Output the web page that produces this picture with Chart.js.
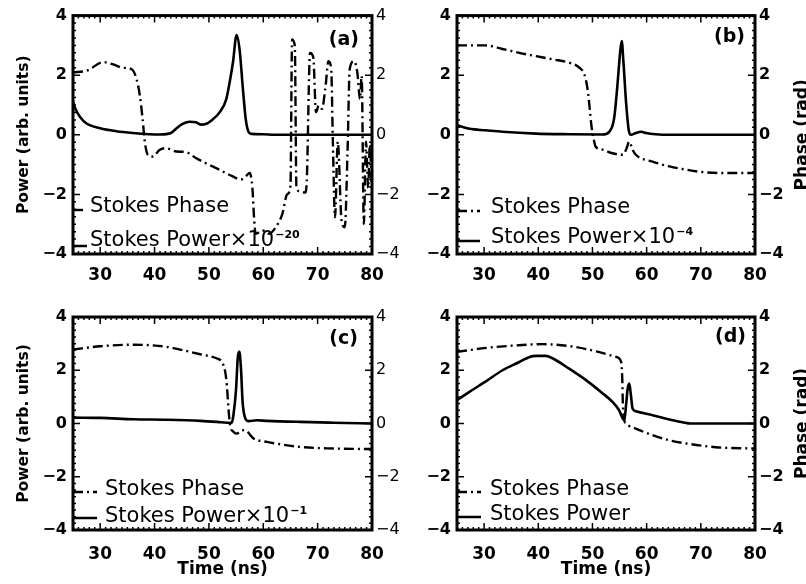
<!DOCTYPE html>
<html>
<head>
<meta charset="utf-8">
<script src="https://cdn.jsdelivr.net/npm/chart.js@4.4.0/dist/chart.umd.min.js"></script>
<style>
  body { margin: 0; background: #fff; }
  #wrap { position: relative; width: 806px; height: 584px; }
  canvas { position: absolute; }
</style>
</head>
<body>
<div id="wrap">
  <canvas id="pa" width="403" height="292" style="left:0;top:0"></canvas>
  <canvas id="pb" width="403" height="292" style="left:403px;top:0"></canvas>
  <canvas id="pc" width="403" height="292" style="left:0;top:292px"></canvas>
  <canvas id="pd" width="403" height="292" style="left:403px;top:292px"></canvas>
</div>
<script>
const xTicks = [30, 40, 50, 60, 70, 80];
const yTicks = [-4, -2, 0, 2, 4];

// (a)
const powerTimeA = [25, 25.5, 26.3, 27.5, 30, 33, 36, 39, 41, 43, 44, 45, 46.4, 47.6, 48.5, 49.4, 50.6, 52, 53.2, 53.8, 54.4, 55.1, 55.65, 56.25, 56.75, 57.2, 57.8, 60, 62, 80];
const powerA = [1.1, 0.85, 0.6, 0.38, 0.22, 0.12, 0.06, 0.02, 0.01, 0.06, 0.21, 0.35, 0.44, 0.42, 0.34, 0.36, 0.5, 0.76, 1.2, 1.75, 2.4, 3.35, 2.85, 1.55, 0.56, 0.14, 0.03, 0.02, 0, 0];
const phaseTimeA = [25, 27.5, 30.6, 32.4, 34.2, 35.8, 36.7, 37.3, 37.8, 38.2, 38.8, 39.7, 40.9, 42.1, 44, 45.8, 47.6, 49.4, 51.9, 54.3, 55.9, 56.8, 57.5, 58, 58.3, 58.6, 59.9, 61.1, 62.3, 63.5, 64.4, 65, 65.3, 65.8, 66.1, 66.8, 67.7, 68, 68.6, 69.2, 69.7, 70.2, 70.8, 71.4, 72, 72.5, 72.8, 73.2, 73.7, 74.4, 75, 75.5, 75.9, 76.7, 77.3, 77.8, 78.1, 78.5, 78.9, 79.3, 79.6, 80];
const phaseA = [2.1, 2.15, 2.44, 2.36, 2.25, 2.2, 1.86, 1.31, 0.54, -0.23, -0.68, -0.73, -0.51, -0.45, -0.56, -0.58, -0.78, -0.95, -1.17, -1.39, -1.5, -1.39, -1.28, -1.78, -2.77, -3.32, -3.21, -3.32, -3.1, -2.66, -2.0, -1.72, 3.2, 2.98, -1.78, -1.9, -1.94, -1.55, 2.75, 2.6, 0.76, 0.98, 0.87, 1.53, 2.47, 2.2, -0.23, -2.77, -0.23, -2.88, -3.1, -0.56, 2.2, 2.47, 2.09, 1.2, 1.98, -2.99, -0.23, -1.78, -0.34, -2.0];

// (b)
const powerTimeB = [25, 27.3, 30.3, 33.4, 39.6, 45.7, 51.9, 53.1, 54, 54.6, 55.1, 55.4, 55.7, 56.2, 56.7, 57.1, 58, 59, 59.9, 61.7, 64, 80];
const powerB = [0.32, 0.2, 0.15, 0.1, 0.04, 0.02, 0.01, 0.1, 0.55, 1.65, 2.75, 3.15, 2.5, 1.1, 0.15, 0, 0.06, 0.1, 0.06, 0.02, 0, 0];
const phaseTimeB = [25, 30.3, 33.4, 36.5, 39.6, 42.7, 45.7, 47.6, 48.5, 49.1, 49.5, 49.8, 50.2, 50.6, 51.9, 53.7, 55.6, 56.2, 56.8, 57.4, 58, 61.1, 64.2, 67.3, 70.3, 73.4, 80];
const phaseB = [3.0, 3.0, 2.88, 2.75, 2.64, 2.53, 2.42, 2.25, 2.03, 1.53, 0.87, 0.32, -0.12, -0.4, -0.5, -0.62, -0.67, -0.5, -0.23, -0.5, -0.67, -0.9, -1.06, -1.17, -1.25, -1.28, -1.28];

// (c)
const powerTimeC = [25, 30, 36.1, 42.2, 48.4, 51.5, 53.3, 54.2, 54.5, 55, 55.3, 55.6, 55.9, 56.2, 56.7, 57.3, 58.8, 60.7, 66.8, 72.9, 80];
const powerC = [0.22, 0.21, 0.16, 0.14, 0.1, 0.06, 0.03, 0.03, 0.3, 1.3, 2.45, 2.7, 2.06, 0.8, 0.19, 0.09, 0.12, 0.1, 0.06, 0.03, 0];
const phaseTimeC = [25, 30, 36.1, 39.2, 42.2, 45.3, 48.4, 51.5, 52.4, 53, 53.3, 53.6, 53.9, 54.5, 55.1, 56.1, 57, 58.2, 60.7, 66.8, 72.9, 80];
const phaseC = [2.78, 2.9, 2.96, 2.94, 2.88, 2.75, 2.6, 2.44, 2.31, 1.94, 1.44, 0.56, -0.06, -0.31, -0.38, -0.25, -0.3, -0.56, -0.69, -0.88, -0.94, -0.96];

// (d)
const powerTimeD = [25, 27.3, 30.4, 33.4, 36.5, 38.4, 39.6, 41.4, 42.7, 45.7, 48.8, 51.9, 53.7, 54.9, 55.6, 55.9, 56.2, 56.5, 56.8, 57.1, 57.4, 58, 61.1, 64.2, 67.3, 68, 80];
const powerD = [0.88, 1.19, 1.59, 2.0, 2.31, 2.5, 2.54, 2.54, 2.44, 2.06, 1.63, 1.13, 0.81, 0.5, 0.19, 0.13, 0.69, 1.31, 1.5, 1.06, 0.56, 0.46, 0.31, 0.15, 0.02, 0, 0];
const phaseTimeD = [25, 30.4, 36.5, 40.8, 45.7, 50.7, 54.4, 55.3, 55.5, 55.6, 55.8, 56.2, 58, 61.1, 64.2, 67.3, 70.4, 73.4, 80];
const phaseD = [2.69, 2.84, 2.94, 2.98, 2.91, 2.71, 2.5, 2.31, 1.69, 0.81, 0.19, 0, -0.19, -0.44, -0.63, -0.75, -0.84, -0.9, -0.94];

const FONT = '"DejaVu Sans", sans-serif';
const DASH = [10, 4, 2, 4];

function pts(t, v) {
  return t.map((x, i) => ({ x: x, y: v[i] }));
}
function minus(v) {
  return String(v).replace('-', '\u2212');
}

// frame with inward ticks, panel tag, legend and axis titles
const framePlugin = {
  id: 'frame',
  afterDraw(chart, args, o) {
    const { ctx, chartArea: a, scales } = chart;
    const x = scales.x, y = scales.y;
    ctx.save();
    ctx.strokeStyle = '#000';
    ctx.fillStyle = '#000';

    ctx.lineWidth = 1.5;
    ctx.beginPath();
    for (let t = 25; t <= 80; t++) {
      const px = x.getPixelForValue(t);
      const len = t % 10 === 0 ? 7 : 3;
      ctx.moveTo(px, a.bottom); ctx.lineTo(px, a.bottom - len);
      ctx.moveTo(px, a.top); ctx.lineTo(px, a.top + len);
    }
    for (let k = -16; k <= 16; k++) {
      const py = y.getPixelForValue(k * 0.25);
      const len = k % 8 === 0 ? 7 : 3;
      ctx.moveTo(a.left, py); ctx.lineTo(a.left + len, py);
      ctx.moveTo(a.right, py); ctx.lineTo(a.right - len, py);
    }
    ctx.stroke();
    ctx.lineWidth = 3;
    ctx.strokeRect(a.left, a.top, a.right - a.left, a.bottom - a.top);

    // panel tag
    ctx.font = 'bold 19px ' + FONT;
    ctx.textAlign = 'right';
    ctx.textBaseline = 'alphabetic';
    ctx.fillText(o.tag, a.right - o.tagRight, a.top + o.tagTop);

    // legend
    const lg = o.legend;
    ctx.lineWidth = 2.4;
    ctx.setLineDash(DASH);
    ctx.beginPath();
    ctx.moveTo(a.left, a.bottom - lg.phaseLine);
    ctx.lineTo(a.left + lg.sample, a.bottom - lg.phaseLine);
    ctx.stroke();
    ctx.setLineDash([]);
    ctx.lineWidth = 2.5;
    ctx.beginPath();
    ctx.moveTo(a.left, a.bottom - lg.powerLine);
    ctx.lineTo(a.left + lg.sample, a.bottom - lg.powerLine);
    ctx.stroke();

    ctx.textAlign = 'left';
    ctx.font = '21px ' + FONT;
    ctx.fillText('Stokes Phase', a.left + lg.textX, a.bottom - lg.phaseBase);
    const powerLabel = o.exp ? 'Stokes Power\u00d710' : 'Stokes Power';
    ctx.fillText(powerLabel, a.left + lg.textX, a.bottom - lg.powerBase);
    if (o.exp) {
      const w = ctx.measureText(powerLabel).width;
      ctx.font = 'bold 11px ' + FONT;
      ctx.fillText(o.exp, a.left + lg.textX + w + 1, a.bottom - lg.powerBase - 8);
    }

    // titles
    ctx.textAlign = 'center';
    const midY = (a.top + a.bottom) / 2;
    if (o.yTitle) {
      ctx.save();
      ctx.font = 'bold 15.5px ' + FONT;
      ctx.translate(28, midY);
      ctx.rotate(-Math.PI / 2);
      ctx.fillText('Power (arb. units)', 0, 0);
      ctx.restore();
    }
    if (o.rTitle) {
      ctx.save();
      ctx.font = 'bold 17px ' + FONT;
      ctx.translate(404, midY);
      ctx.rotate(-Math.PI / 2);
      ctx.fillText('Phase (rad)', 0, 0);
      ctx.restore();
    }
    if (o.xTitle) {
      ctx.font = 'bold 17px ' + FONT;
      ctx.fillText('Time (ns)', (a.left + a.right) / 2, 282);
    }
    ctx.restore();
  }
};

function makeChart(id, p) {
  const tickFont = { family: FONT, size: 17, weight: 'bold' };
  new Chart(document.getElementById(id), {
    type: 'line',
    data: {
      datasets: [
        {
          label: 'Stokes Phase',
          data: pts(p.phaseT, p.phase),
          yAxisID: 'y2',
          borderColor: '#000',
          borderWidth: 2.4,
          borderDash: DASH,
          pointRadius: 0,
          cubicInterpolationMode: 'monotone'
        },
        {
          label: 'Stokes Power',
          data: pts(p.powerT, p.power),
          yAxisID: 'y',
          borderColor: '#000',
          borderWidth: 2.6,
          pointRadius: 0,
          cubicInterpolationMode: 'monotone'
        }
      ]
    },
    options: {
      responsive: false,
      animation: false,
      events: [],
      layout: { padding: { top: p.top, left: 0, right: 0, bottom: 0 } },
      plugins: {
        legend: { display: false },
        tooltip: { enabled: false },
        frame: p.frame
      },
      scales: {
        x: {
          type: 'linear', min: 25, max: 80,
          afterBuildTicks: s => { s.ticks = xTicks.map(v => ({ value: v })); },
          afterFit: s => { s.height = p.xh; },
          grid: { display: false, drawTicks: false },
          border: { display: false },
          ticks: { font: tickFont, color: '#000', padding: p.xpad, maxRotation: 0 }
        },
        y: {
          position: 'left', min: -4, max: 4,
          afterBuildTicks: s => { s.ticks = yTicks.map(v => ({ value: v })); },
          afterFit: s => { s.width = p.lw; },
          grid: { display: false, drawTicks: false },
          border: { display: false },
          ticks: { font: { family: FONT, size: 16, weight: 'bold' }, color: '#000', padding: 6, callback: v => minus(v) }
        },
        y2: {
          position: 'right', min: -4, max: 4,
          afterBuildTicks: s => { s.ticks = yTicks.map(v => ({ value: v })); },
          afterFit: s => { s.width = p.rw; },
          grid: { display: false, drawTicks: false },
          border: { display: false },
          ticks: { font: { family: FONT, size: 16, weight: p.rBold ? 'bold' : 'normal' }, color: '#000', padding: 4, callback: v => minus(v) }
        }
      }
    },
    plugins: [framePlugin]
  });
}

makeChart('pa', {
  powerT: powerTimeA, power: powerA, phaseT: phaseTimeA, phase: phaseA,
  top: 11, xh: 38, lw: 73, rw: 31, xpad: 11, rBold: false,
  frame: { tag: '(a)', tagRight: 13, tagTop: 29, exp: '\u221220', yTitle: true,
    legend: { sample: 14, textX: 17, phaseLine: 44, phaseBase: 42, powerLine: 8, powerBase: 8 } }
});
makeChart('pb', {
  powerT: powerTimeB, power: powerB, phaseT: phaseTimeB, phase: phaseB,
  top: 11, xh: 38, lw: 54, rw: 51, xpad: 11, rBold: true,
  frame: { tag: '(b)', tagRight: 10, tagTop: 26, exp: '\u22124', rTitle: true,
    legend: { sample: 23, textX: 34, phaseLine: 43, phaseBase: 41, powerLine: 13, powerBase: 11 } }
});
makeChart('pc', {
  powerT: powerTimeC, power: powerC, phaseT: phaseTimeC, phase: phaseC,
  top: 25, xh: 54, lw: 73, rw: 31, xpad: 14, rBold: false,
  frame: { tag: '(c)', tagRight: 14, tagTop: 27, exp: '\u22121', yTitle: true, xTitle: true,
    legend: { sample: 24, textX: 32, phaseLine: 38, phaseBase: 35, powerLine: 12, powerBase: 8 } }
});
makeChart('pd', {
  powerT: powerTimeD, power: powerD, phaseT: phaseTimeD, phase: phaseD,
  top: 25, xh: 54, lw: 54, rw: 51, xpad: 14, rBold: true,
  frame: { tag: '(d)', tagRight: 9, tagTop: 25, exp: null, rTitle: true, xTitle: true,
    legend: { sample: 24, textX: 33, phaseLine: 38, phaseBase: 35, powerLine: 13, powerBase: 10 } }
});
</script>
</body>
</html>
